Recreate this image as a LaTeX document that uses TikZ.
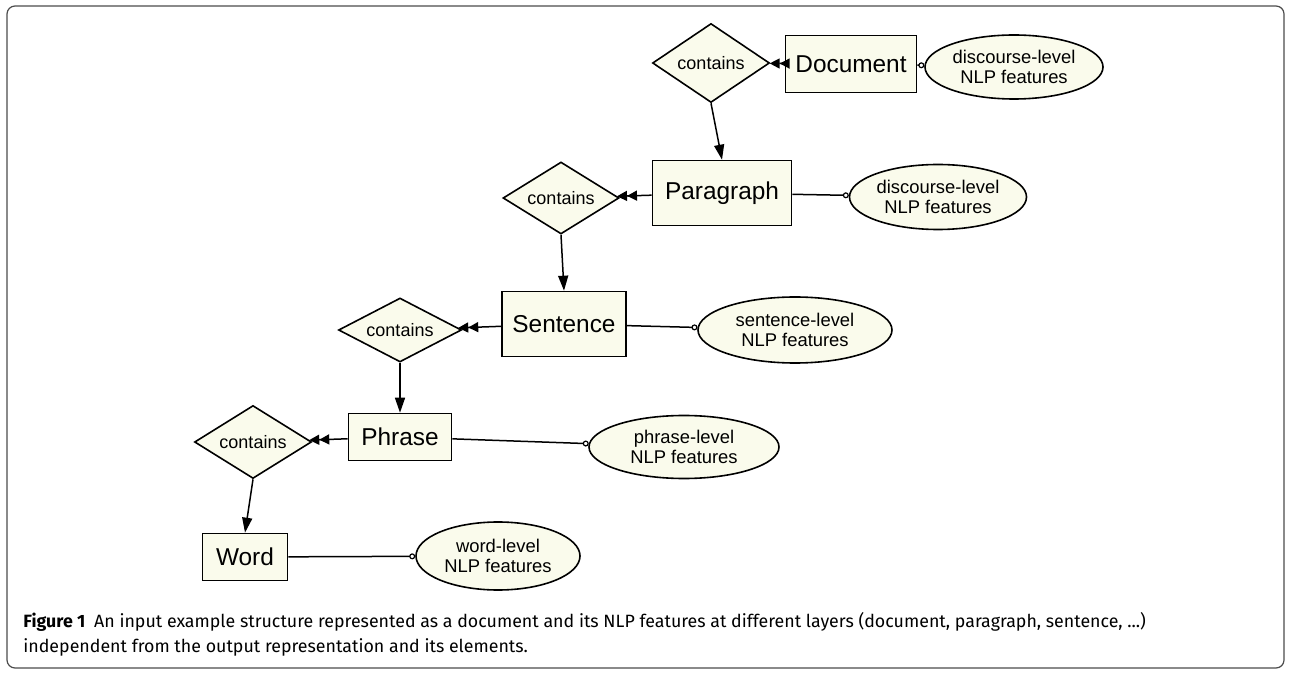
\documentclass[tikz,border=0pt]{standalone}
\usepackage{fontspec}
\setmainfont{Liberation Sans}
\newfontfamily\capfont{Fira Sans}
\usetikzlibrary{shapes.geometric,arrows.meta}
\definecolor{erfill}{RGB}{250,251,236}
\begin{document}
\begin{tikzpicture}[x=0.5pt,y=-0.5pt,
	ent/.style={draw,line width=0.8pt,fill=erfill,inner sep=0pt,font=\fontsize{12.2}{14}\selectfont},
	rel/.style={draw,diamond,aspect=1.5,line width=0.8pt,fill=erfill,inner sep=0pt,font=\fontsize{9}{10}\selectfont},
	attr/.style={draw,ellipse,line width=0.8pt,fill=erfill,inner sep=0pt,align=center,font=\fontsize{9.2}{10}\selectfont},
	has/.style={line width=0.75pt,-{Triangle[length=5pt,width=5pt]Triangle[length=5pt,width=5pt]}},
	down/.style={line width=0.75pt,-{Triangle[length=7.5pt,width=5pt]}},
	feat/.style={line width=0.75pt,-{Circle[open,length=3pt,line width=0.6pt]}}]
			\useasboundingbox (0,0) rectangle (1290,673);
			\draw[rounded corners=4pt,line width=0.6pt,black!70] (7,6) rectangle (1284,668);
			% document
			\node[ent,minimum width=65.5pt,minimum height=28.5pt] (doc) at (851,64) {Document};
			\node[rel,minimum width=58.5pt,minimum height=39.5pt] (c1) at (711,63) {contains};
			\node[attr,minimum width=89pt,minimum height=32pt] (e1) at (1014,67) {discourse-level\\NLP features};
			% paragraph
			\node[ent,minimum width=69.5pt,minimum height=32.5pt] (para) at (722,193) {Paragraph};
			\node[rel,minimum width=58pt,minimum height=36pt] (c2) at (561,198) {contains};
			\node[attr,minimum width=88.5pt,minimum height=32.5pt] (e2) at (938,197) {discourse-level\\NLP features};
			% sentence
			\node[ent,minimum width=62pt,minimum height=32.5pt] (sent) at (564,324) {Sentence};
			\node[rel,minimum width=61.5pt,minimum height=32pt] (c3) at (400,330) {contains};
			\node[attr,minimum width=97pt,minimum height=33pt] (e3) at (795,330) {sentence-level\\NLP features};
			% phrase
			\node[ent,minimum width=51.5pt,minimum height=23.5pt] (phr) at (400,437) {Phrase};
			\node[rel,minimum width=58.5pt,minimum height=36.5pt] (c4) at (253,442) {contains};
			\node[attr,minimum width=95pt,minimum height=31.5pt] (e4) at (684,447) {phrase-level\\NLP features};
			% word
			\node[ent,minimum width=42.5pt,minimum height=23.5pt] (word) at (245,557) {Word};
			\node[attr,minimum width=82pt,minimum height=34pt] (e5) at (498,556) {word-level\\NLP features};
			
			\draw[has] (doc) -- (c1);
			\draw[has] (para) -- (c2);
			\draw[has] (sent) -- (c3);
			\draw[has] (phr) -- (c4);
			\draw[down] (c1.south) -- (para.north);
			\draw[down] (c2.south) -- (sent.north);
			\draw[down] (c3.south) -- (phr.north);
			\draw[down] (c4.south) -- (word.north);
			\draw[feat] (doc) -- (e1);
			\draw[feat] (para) -- (e2);
			\draw[feat] (sent) -- (e3);
			\draw[feat] (phr) -- (e4);
			\draw[feat] (word) -- (e5);
			
			\node[anchor=base west,inner sep=0pt,font=\capfont\fontsize{8.9}{10}\selectfont] (cap1) at (23,627) {\textbf{Figure 1}\enspace An input example structure represented as a document and its NLP features at different layers (document, paragraph, sentence, ...)};
			\node[anchor=base west,inner sep=0pt,font=\capfont\fontsize{8.9}{10}\selectfont] (cap2) at (23,652) {independent from the output representation and its elements.};
		\end{tikzpicture}
\end{document}
